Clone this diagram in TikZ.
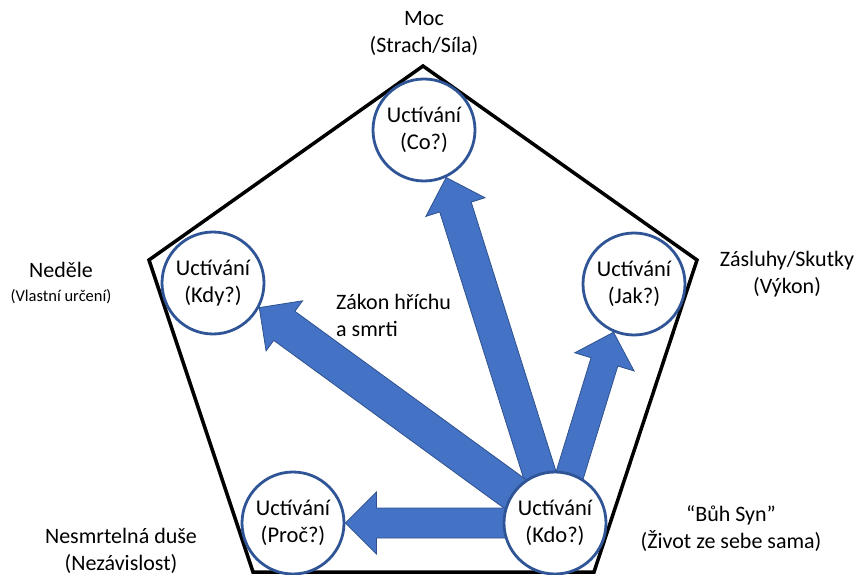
\documentclass[tikz,border=0pt]{standalone}
\usepackage{fontspec}
\setmainfont{Carlito}
\usetikzlibrary{calc}
\definecolor{arrowfill}{HTML}{4472C4}
\definecolor{arrowline}{HTML}{2F528F}
\definecolor{ringline}{HTML}{2F5597}
\pgfdeclarelayer{bg}
\pgfsetlayers{bg,main}
\tikzset{
  ring/.style={circle, draw=ringline, line width=2.8pt, fill=white, minimum size=102pt, inner sep=0pt, align=center, font=\fontsize{22.5}{27.5}\selectfont},
  barrow/.style={fill=arrowfill, draw=arrowline, line width=0.8pt, line join=miter},
  lbl/.style={align=center, font=\fontsize{22}{27}\selectfont, inner sep=0pt},
  pent/.style={line width=3.5pt, line join=miter, draw=black},
}
\newcommand\blkarrow[5]{%
  \coordinate (#1b) at ($(#3)!31pt!(#2)$);
  \filldraw[barrow] ($(#2)!#4!90:(#3)$) -- ($(#1b)!#4!90:(#3)$) -- ($(#1b)!#5!90:(#3)$) -- (#3) -- ($(#1b)!#5!-90:(#3)$) -- ($(#1b)!#4!-90:(#3)$) -- ($(#2)!#4!-90:(#3)$) -- cycle;}
\begin{document}
\begin{tikzpicture}[x=1pt,y=-1pt]
\useasboundingbox (0,0) rectangle (857,575);
% circles
\node[ring] (co) at (424,130) {Uctívání\\(Co?)};
\node[ring] (kdy) at (213,283) {Uctívání\\(Kdy?)};
\node[ring] (jak) at (634,284) {Uctívání\\(Jak?)};
\node[ring] (proc) at (293,523) {Uctívání\\(Proč?)};
\node[ring] (kdo) at (555,523) {Uctívání\\(Kdo?)};
% tips
\coordinate (tco) at (co.-65);
\coordinate (tkdy) at (kdy.-28);
\coordinate (tjak) at (jak.-113);
\coordinate (tproc) at (proc.east);
\begin{pgfonlayer}{bg}
\draw[pent] (423,66) -- (697,260) -- (594,572) -- (253,572) -- (149,260) -- cycle;
\blkarrow{aco}{kdo.center}{tco}{16.5pt}{31pt}
\blkarrow{akdy}{kdo.center}{tkdy}{18pt}{31pt}
\blkarrow{ajak}{kdo.center}{tjak}{14pt}{31pt}
\blkarrow{aproc}{kdo.center}{tproc}{15pt}{31pt}
\end{pgfonlayer}
% outer labels
\node[lbl] (moc) at (424,33) {Moc\\(Strach/Síla)};
\node[lbl] (nedele) at (61,283) {Neděle\\[-3pt]{\fontsize{16.5}{20}\selectfont (Vlastní určení)}};
\node[lbl] (zasluhy) at (787,274) {Zásluhy/Skutky\\(Výkon)};
\node[lbl, align=left, anchor=west] (zakon) at (336,315) {Zákon hříchu\\a smrti};
\node[lbl] (buh) at (731,529) {“Bůh Syn”\\(Život ze sebe sama)};
\node[lbl] (nesmrt) at (121,551) {Nesmrtelná duše\\(Nezávislost)};
\end{tikzpicture}
\end{document}
